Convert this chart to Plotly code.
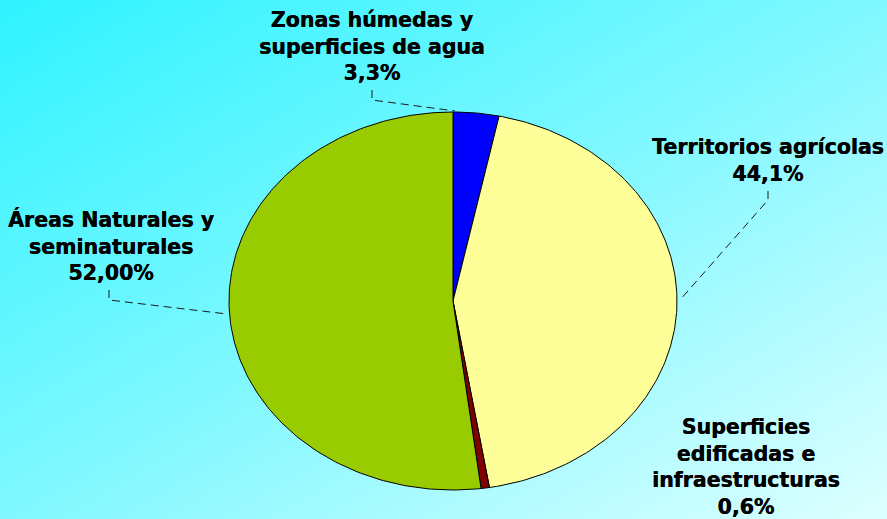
import base64
import numpy as np
import plotly.graph_objects as go

# ---------------- data ----------------
categories = [
    "Zonas húmedas y superficies de agua",
    "Territorios agrícolas",
    "Superficies edificadas e infraestructuras",
    "Áreas Naturales y seminaturales",
]
values = [3.3, 44.1, 0.6, 52.0]
value_labels = ["3,3%", "44,1%", "0,6%", "52,00%"]
label_texts = [
    "Zonas húmedas y<br>superficies de agua",
    "Territorios agrícolas",
    "Superficies<br>edificadas e<br>infraestructuras",
    "Áreas Naturales y<br>seminaturales",
]
colors = ["#0000FF", "#FFFF99", "#800000", "#99CC00"]

# ---------------- layout parameters (pixels) ----------------
W, H = 887, 519
CX, CY, RX, RY = 453, 301, 224, 189

# label block centres (px) and leader lines (px)
label_pos = [(372, 46), (768, 160), (746, 467), (111, 246)]
leaders = [
    [(372, 90), (372, 100), (455, 111)],
    [(768, 191), (768, 200), (680, 300)],
    None,
    [(109, 290), (109, 300), (227, 314)],
]


def to_data(px, py):
    return (px - CX) / RX, (CY - py) / RY


fig = go.Figure()

total = sum(values)
start = 0.0
for cat, v, c in zip(categories, values, colors):
    end = start + v / total
    th = np.linspace(start * 2 * np.pi, end * 2 * np.pi, max(int(v * 4), 6))
    xs = np.concatenate([[0], np.sin(th), [0]])
    ys = np.concatenate([[0], np.cos(th), [0]])
    fig.add_trace(go.Scatter(
        x=xs, y=ys, mode="lines", fill="toself", fillcolor=c,
        line=dict(color="#000000", width=1), name=cat,
        hoverinfo="name", showlegend=False,
    ))
    start = end

# leader lines
for pts in leaders:
    if pts is None:
        continue
    d = [to_data(*p) for p in pts]
    fig.add_trace(go.Scatter(
        x=[p[0] for p in d], y=[p[1] for p in d], mode="lines",
        line=dict(color="#1a1a1a", width=1, dash="8px,5px"),
        hoverinfo="skip", showlegend=False,
    ))

# labels
for txt, val, (px, py) in zip(label_texts, value_labels, label_pos):
    x, y = to_data(px, py)
    fig.add_annotation(
        x=x, y=y, xref="x", yref="y", text=f"<b>{txt}<br>{val}</b>",
        showarrow=False, xanchor="center", yanchor="middle", align="center",
        font=dict(family="DejaVu Sans", size=20.5, color="#000000",
                  shadow="0.4px 0 0 #000"),
    )

# gradient background
svg = (
    f'<svg xmlns="http://www.w3.org/2000/svg" width="{W}" height="{H}">'
    '<defs><linearGradient id="g" x1="0" y1="0" x2="1" y2="1">'
    '<stop offset="0" stop-color="#2EF3FF"/>'
    '<stop offset="0.5" stop-color="#80F8FF"/>'
    '<stop offset="1" stop-color="#DEFFFF"/>'
    '</linearGradient></defs>'
    f'<rect width="{W}" height="{H}" fill="url(#g)"/></svg>'
)
src = "data:image/svg+xml;base64," + base64.b64encode(svg.encode()).decode()
fig.add_layout_image(dict(
    source=src, xref="paper", yref="paper", x=0, y=1, sizex=1, sizey=1,
    xanchor="left", yanchor="top", sizing="stretch", layer="below",
))

fig.update_layout(
    width=W, height=H, margin=dict(l=0, r=0, t=0, b=0),
    paper_bgcolor="#8FF8FF", plot_bgcolor="rgba(0,0,0,0)",
    xaxis=dict(range=[-CX / RX, (W - CX) / RX], visible=False, fixedrange=True),
    yaxis=dict(range=[-(H - CY) / RY, CY / RY], visible=False, fixedrange=True),
)

fig.write_html(
    "out.html",
    config={"displayModeBar": False},
    post_script="document.body.style.margin='0';document.body.style.padding='0';"
                "document.body.style.overflow='hidden';",
)
